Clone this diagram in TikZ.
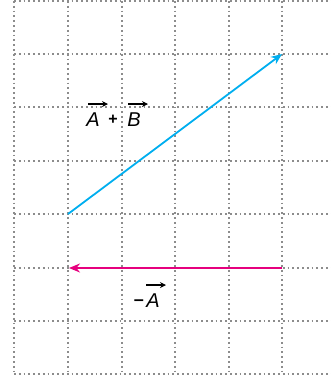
\documentclass[tikz,border=0pt]{standalone}
\usepackage{fontspec}
\setmainfont{Liberation Sans}
\usetikzlibrary{arrows.meta}
\definecolor{vecblue}{RGB}{0,174,239}
\definecolor{vecmag}{RGB}{230,0,126}
\definecolor{gridgray}{RGB}{140,140,140}
\begin{document}
\begin{tikzpicture}[x=1pt,y=-1pt,
  gridline/.style={gridgray,line width=1.7pt,dash pattern=on 1.7pt off 3.1pt},
  vecarrow/.style={line width=1.8pt,-{Stealth[length=11pt,width=9pt]}},
  lbl/.style={font=\fontsize{20}{22}\selectfont\itshape,inner sep=0pt},
  overarrow/.style={line width=1.4pt,-{Stealth[length=6pt,width=6pt]}}]
\useasboundingbox (0,0) rectangle (331,381);
\foreach \y in {1,54,107,161,214,268,321,374}
  \draw[gridline] (14,\y) -- (331,\y);
\foreach \x in {14,68,122,175,229,282}
  \draw[gridline] (\x,1) -- (\x,374);
\coordinate (bstart) at (68,214);
\coordinate (bend) at (282,54);
\coordinate (mstart) at (282,268);
\coordinate (mend) at (69,268);
\draw[vecarrow,vecblue] (bstart) -- (bend);
\draw[vecarrow,vecmag,line width=2.2pt] (mstart) -- (mend);
\node[lbl,anchor=base] (la) at (93,126) {A};
\node[lbl,anchor=base,font=\fontsize{16}{18}\selectfont\bfseries] (lplus) at (113,124) {+};
\node[lbl,anchor=base] (lb) at (134,126) {B};
\node[lbl,anchor=base,font=\fontsize{18}{20}\selectfont\bfseries] (lminus) at (139,305) {–};
\node[lbl,anchor=base] (lc) at (153,307) {A};
\draw[overarrow] ([xshift=-5pt,yshift=8pt]la.north) -- ([xshift=15pt,yshift=8pt]la.north);
\draw[overarrow] ([xshift=-6pt,yshift=8pt]lb.north) -- ([xshift=14pt,yshift=8pt]lb.north);
\draw[overarrow] ([xshift=-7pt,yshift=8pt]lc.north) -- ([xshift=13pt,yshift=8pt]lc.north);
\end{tikzpicture}
\end{document}
